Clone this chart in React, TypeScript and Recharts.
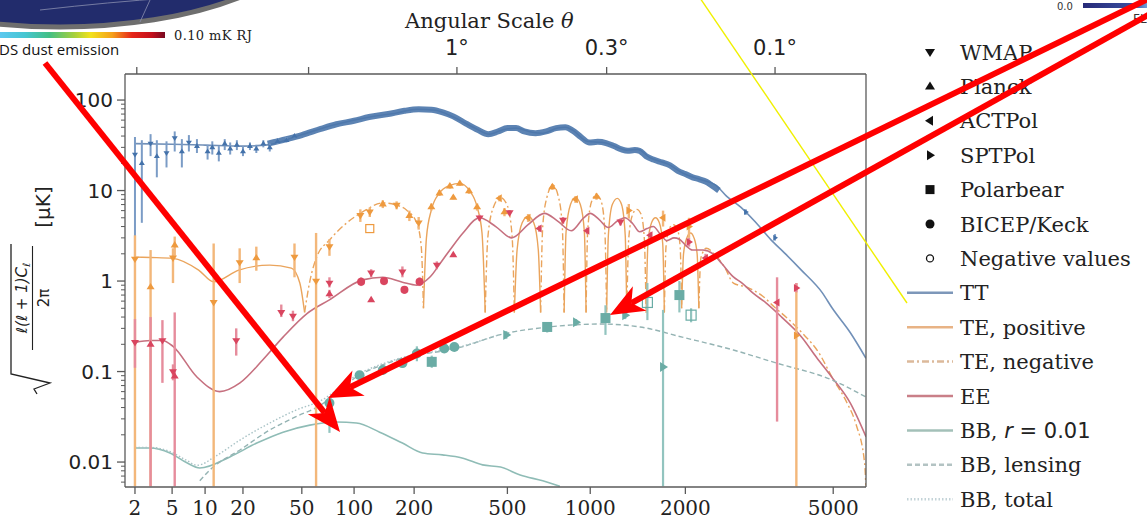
import React from "react";
import { ComposedChart, Line, Scatter, XAxis, YAxis, ErrorBar } from "recharts";

const W = 1147;
const H = 519;

// horizontal axis of the figure is linear in l^0.2
const X_POW = 0.2;
const toU = (l: number) => Math.pow(l, X_POW);

const L_RANGE = [1.515, 6000];
const Y_RANGE = [0.0053, 194];

const X_TICKS = [2, 5, 10, 20, 50, 100, 200, 500, 1000, 2000, 5000];
const TOP_TICKS = [2.1, 55, 311, 1135, 3556];
const TOP_LABELS = ["", "", "1°", "0.3°", "0.1°"];
const Y_MAJOR = [0.01, 0.1, 1, 10, 100];
const Y_MINOR = [
  0.006, 0.007, 0.008, 0.009, 0.02, 0.03, 0.04, 0.05, 0.06, 0.07, 0.08, 0.09,
  0.2, 0.3, 0.4, 0.5, 0.6, 0.7, 0.8, 0.9, 2, 3, 4, 5, 6, 7, 8, 9,
  20, 30, 40, 50, 60, 70, 80, 90,
];

// theory curves [l, value]
const TT_CURVE = [
  [2, 33], [5, 32.5], [10, 31.8], [20, 31], [30, 32], [49, 41], [77, 53], [121, 65],
  [165, 72], [205, 79], [250, 77], [300, 65], [370, 49], [424, 42], [480, 47], [540, 49],
  [620, 44], [680, 43], [770, 49], [820, 50], [870, 46.5], [975, 35], [1130, 33.5],
  [1180, 31.8], [1320, 28], [1430, 28.5], [1564, 23], [1770, 19.7], [1970, 15.5],
  [2250, 13], [2450, 11.5], [2640, 8.5], [2870, 6.6], [3166, 4.4], [3470, 2.85],
  [3762, 2.05], [4160, 1.32], [4700, 0.74], [4975, 0.5], [5500, 0.27], [6000, 0.14],
];

// Planck binned TT band
const TT_BAND = [
  [30, 33], [40, 37], [50, 41], [65, 48], [80, 54], [100, 59], [120, 65], [150, 70],
  [180, 76], [210, 79], [240, 78], [270, 73], [300, 66], [340, 55], [380, 47], [420, 42],
  [460, 45], [500, 49], [540, 49], [580, 45], [640, 43], [700, 45], [760, 49], [820, 50],
  [870, 46], [930, 39], [990, 34], [1060, 34.5], [1130, 33.5], [1200, 31], [1270, 28.5],
  [1330, 27.5], [1400, 28], [1450, 27.5], [1520, 24], [1600, 22], [1700, 20.5],
  [1800, 19], [1900, 16.5], [2000, 15.2], [2100, 14], [2200, 13.3], [2300, 12.5],
  [2400, 11.2], [2500, 10],
];

// |TE|, sign flips at each crossing
const TE_CROSS = [52, 221, 408, 532, 668, 812, 968, 1135, 1320, 1520, 1730, 1950, 2190];
const TE_CURVE = [
  [2, 1.84], [3, 1.82], [5.1, 1.78], [8.8, 1.32], [11.8, 0.98], [18.6, 1.32], [31, 1.5],
  [43, 1.39], [48.6, 0.95], [52, 0.45],
  [56, 1.0], [61.5, 1.84], [73, 2.84], [91, 4.37], [111, 5.8], [141, 7.3], [165, 6.9],
  [184, 6.1], [206, 4.37], [216, 2.35], [221, 0.5],
  [228, 3.0], [240, 6.1], [261, 9.4], [290, 11.4], [320, 12.0], [350, 10.1], [378, 6.6],
  [396, 3.4], [408, 0.45],
  [418, 3.0], [440, 6.5], [470, 8.4], [500, 6.8], [522, 3.0], [532, 0.45],
  [545, 2.2], [570, 4.4], [600, 5.2], [630, 4.4], [655, 2.2], [668, 0.45],
  [680, 4.0], [705, 8.5], [740, 11.5], [775, 8.5], [800, 4.0], [812, 0.45],
  [825, 3.5], [855, 7.0], [890, 8.4], [925, 7.0], [955, 3.5], [968, 0.45],
  [980, 3.5], [1010, 7.5], [1050, 9.0], [1090, 7.5], [1120, 3.5], [1135, 0.45],
  [1150, 3.2], [1185, 7.0], [1230, 8.2], [1270, 7.0], [1305, 3.2], [1320, 0.45],
  [1340, 3.0], [1380, 5.5], [1420, 6.2], [1465, 5.5], [1500, 3.0], [1520, 0.45],
  [1540, 2.6], [1580, 4.4], [1625, 5.0], [1670, 4.4], [1710, 2.6], [1730, 0.45],
  [1750, 2.4], [1790, 3.8], [1840, 4.2], [1890, 3.8], [1930, 2.4], [1950, 0.5],
  [1975, 2.0], [2020, 3.0], [2070, 3.4], [2120, 3.0], [2165, 2.0], [2190, 0.5],
  [2220, 1.8], [2300, 2.3], [2450, 1.9], [2600, 1.4], [2744, 0.95], [3000, 0.85],
  [3300, 0.68], [3536, 0.52], [3850, 0.38], [4170, 0.27], [4611, 0.16], [4977, 0.085],
  [5405, 0.045], [5683, 0.026], [5955, 0.0097], [5995, 0.0055],
];

const EE_CURVE = [
  [2, 0.21], [3, 0.22], [4, 0.22], [5.1, 0.19], [8.5, 0.087], [13.2, 0.06], [19, 0.075],
  [27.7, 0.134], [38, 0.24], [54, 0.44], [73, 0.62], [111, 1.03], [141, 1.1], [176, 0.97],
  [206, 0.9], [236, 1.1], [269, 1.7], [290, 2.2], [330, 3.4], [387, 5.0], [450, 4.0],
  [520, 3.0], [600, 4.2], [690, 5.6], [770, 4.6], [860, 3.6], [950, 5.0], [1000, 5.6],
  [1070, 4.8], [1150, 3.9], [1230, 4.6], [1300, 5.0], [1380, 4.3], [1450, 3.5],
  [1530, 3.8], [1600, 4.0], [1680, 3.3], [1760, 2.8], [1850, 3.0], [1920, 2.9],
  [2000, 2.5], [2100, 2.2], [2250, 2.2], [2405, 2.0], [2550, 1.55], [2744, 1.11],
  [2900, 0.95], [3101, 0.74], [3371, 0.57], [3700, 0.4], [4170, 0.24], [4542, 0.144],
  [4977, 0.085], [5500, 0.045], [6000, 0.019],
];

const BB_R = [
  [2, 0.0143], [2.95, 0.0143], [4.76, 0.0126], [6.9, 0.0098], [9, 0.0086], [15.9, 0.0114],
  [25.2, 0.0162], [38, 0.0214], [56, 0.0256], [80, 0.0277], [103, 0.027], [136, 0.0214],
  [176, 0.0162], [219, 0.0126], [269, 0.012], [327, 0.0111], [398, 0.0093], [470, 0.0088],
  [560, 0.0072], [680, 0.0062], [784, 0.0054],
];

const BB_LENS = [
  [9, 0.0062], [11, 0.0082], [19, 0.0136], [31, 0.0226], [46, 0.0317], [62, 0.0405],
  [107, 0.0914], [165, 0.134], [327, 0.187], [465, 0.254], [718, 0.311], [1085, 0.335],
  [1455, 0.311], [1957, 0.24], [2744, 0.173], [3588, 0.124], [4977, 0.0805], [6000, 0.0522],
];

const BB_TOT = [
  [2, 0.0145], [3, 0.0145], [4.8, 0.013], [6.9, 0.0104], [8.5, 0.0092], [12.5, 0.0118],
  [19, 0.0175], [31, 0.027], [46, 0.0375], [64, 0.047], [107, 0.095], [165, 0.137],
  [327, 0.19], [465, 0.256],
];

// measurements [l, value, low, high, marker]
// w WMAP, p Planck, a ACTPol, s SPTPol, b Polarbear, k BICEP/Keck, n negative
const TT_PTS: any[] = [
  [2.0, 25, 0.0054, 39, "w"], [2.4, 20, 4.4, 36, "p"], [3, 33, 24, 42, "w"],
  [3.5, 24, 14, 36, "p"], [4.4, 26, 18, 35, "w"], [5.3, 38, 27, 45, "w"],
  [6.2, 27, 18, 37, "p"], [7.2, 34, 27, 41, "w"], [8.5, 31, 26, 37, "p"],
  [10.5, 27, 22, 32, "p"], [11.5, 30, 25, 35, "p"], [13, 26, 21, 31, "p"],
  [14.5, 33, 28, 37, "p"], [16, 29, 25, 34, "p"], [18, 32, 28, 36, "p"],
  [20, 27, 24, 31, "p"], [22.5, 31, 28, 34, "p"], [25, 29, 26, 32, "p"],
  [28, 33, 30, 36, "p"], [31, 30, 27, 33, "p"], [35, 35, 33, 38, "p"],
  [40, 36, 34, 39, "p"], [45, 40, 38, 42, "p"], [2970, 5.8, 5.4, 6.2, "s"],
  [3556, 3.0, 2.8, 3.3, "s"],
];

const TE_PTS: any[] = [
  [2, 1.75, 0.0054, 3.2, "w"], [3.0, 0.86, 0.0054, 2.2, "p"], [5.1, 1.8, 0.95, 2.3, "w"],
  [5.3, 2.5, 1.9, 3.1, "p"], [11.8, 0.58, 0.0054, 2.6, "w"], [18.9, 1.6, 0.95, 2.3, "w"],
  [25, 1.8, 1.3, 2.4, "p"], [45, 1.84, 1.1, 2.6, "w"], [61, 1.0, 0.0054, 3.4, "w"],
  [73, 2.4, 1.9, 2.9, "w"], [108, 5.3, 4.5, 6.2, "w"], [121, 5.8, 5.1, 6.5, "w"],
  [121, 3.8, 3.8, 3.8, "n"], [141, 7.1, 6.4, 7.8, "p"], [165, 6.9, 6.2, 7.6, "w"],
  [190, 5.3, 4.6, 6.0, "p"], [210, 4.4, 3.7, 5.1, "w"], [240, 6.6, 6.0, 7.2, "p"],
  [261, 9.4, 8.7, 10.1, "p"], [290, 11.2, 10.5, 11.9, "p"], [300, 8.4, 8.0, 8.8, "p"],
  [320, 12.0, 11.3, 12.7, "p"], [350, 9.9, 9.2, 10.6, "p"], [378, 6.6, 6.0, 7.2, "p"],
  [465, 8.2, 7.6, 8.8, "a"], [487, 5.8, 5.2, 6.4, "p"], [600, 5.0, 4.5, 5.5, "a"],
  [737, 11, 10.2, 11.8, "p"], [890, 8.0, 7.3, 8.7, "a"], [1050, 8.6, 7.9, 9.3, "p"],
  [1340, 6.0, 4.9, 7.1, "s"], [1714, 5.0, 4.0, 6.0, "a"], [2050, 4.0, 3.0, 5.0, "s"],
  [4040, 0.25, 0.0054, 0.95, "s"],
];

const EE_PTS: any[] = [
  [2, 0.21, 0.11, 0.38, "w"], [3.0, 0.2, 0.0054, 0.4, "p"], [4.0, 0.22, 0.075, 0.37, "w"],
  [5.3, 0.089, 0.0054, 0.45, "p"], [5.1, 0.1, 0.08, 0.12, "w"], [17.8, 0.22, 0.15, 0.3, "w"],
  [37, 0.45, 0.4, 0.55, "w"], [44, 0.41, 0.36, 0.47, "w"], [73, 0.95, 0.85, 1.1, "w"],
  [73, 0.72, 0.65, 0.8, "p"], [109, 0.98, 0.88, 1.1, "k"], [123, 1.23, 1.1, 1.35, "w"],
  [123, 0.62, 0.62, 0.62, "p"], [143, 1.0, 0.9, 1.1, "k"], [176, 1.26, 1.1, 1.45, "w"],
  [180, 0.8, 0.72, 0.88, "k"], [212, 0.98, 0.88, 1.1, "k"], [254, 1.5, 1.35, 1.65, "w"],
  [300, 1.95, 1.95, 1.95, "p"], [387, 5.0, 4.6, 5.4, "w"], [510, 5.7, 5.3, 6.1, "w"],
  [660, 3.8, 3.5, 4.1, "a"], [805, 4.7, 4.3, 5.1, "w"], [975, 3.6, 3.3, 3.9, "a"],
  [1260, 4.5, 4.1, 4.9, "w"], [1564, 3.2, 2.9, 3.5, "a"], [2050, 2.7, 2.4, 3.0, "s"],
  [2290, 1.8, 1.6, 2.0, "a"], [3600, 0.58, 0.028, 1.1, "a"], [4040, 0.84, 0.75, 0.95, "s"],
];

const BB_PTS: any[] = [
  [73, 0.045, 0.021, 0.052, "k"], [107, 0.091, 0.08, 0.1, "k"], [141, 0.104, 0.092, 0.116, "k"],
  [176, 0.124, 0.11, 0.14, "k"], [206, 0.158, 0.13, 0.19, "k"], [241, 0.128, 0.11, 0.15, "b"],
  [274, 0.18, 0.165, 0.195, "k"], [303, 0.187, 0.17, 0.2, "k"], [495, 0.254, 0.23, 0.28, "s"],
  [706, 0.311, 0.27, 0.35, "b"], [894, 0.35, 0.32, 0.38, "s"], [1125, 0.39, 0.254, 0.54, "b"],
  [1305, 0.42, 0.38, 0.46, "s"], [1534, 0.58, 0.37, 0.95, "n"], [1714, 0.112, 0.0054, 0.48, "s"],
  [1920, 0.7, 0.45, 1.0, "b"], [2079, 0.42, 0.35, 0.5, "n"],
];

const LEGEND_MARKERS = ["WMAP", "Planck", "ACTPol", "SPTPol", "Polarbear", "BICEP/Keck", "Negative values"];
const LEGEND_LINES = ["TT", "TE, positive", "TE, negative", "EE", "BB, r = 0.01", "BB, lensing", "BB, total"];

const AXIS = "#5a5a5a";
const SERIF = "'DejaVu Serif', serif";
const SANS = "'DejaVu Sans', sans-serif";

const TT_C = "#7190b8";
const TE_C = "#eaa45c";
const EE_C = "#c6707f";
const BB_C = "#8fbcb6";
const BBL_C = "#94b3b3";
const BBT_C = "#a9c3c6";

const curve = (rows: number[][]) => rows.map(([l, v]) => ({ x: toU(l), y: v }));

function teSplit(positive: boolean) {
  return TE_CURVE.map(([l, v]) => {
    const k = TE_CROSS.filter((c) => c < l).length;
    const arcs = TE_CROSS.includes(l) ? [k, k + 1] : [k];
    const keep = arcs.some((a) => (a % 2 === 0) === positive);
    return { x: toU(l), y: keep ? v : null };
  });
}

const pts = (rows: any[]) =>
  rows.map(([l, v, lo, hi, m]) => ({ x: toU(l), y: v, err: [v - lo, hi - v], m }));

function markerShape(color: string, s: number) {
  return (p: any) => {
    const { cx, cy, payload } = p;
    if (cx == null || cy == null) return <g />;
    switch (payload.m) {
      case "w":
        return <polygon points={`${cx - s},${cy - s * 0.6} ${cx + s},${cy - s * 0.6} ${cx},${cy + s}`} fill={color} />;
      case "p":
        return <polygon points={`${cx - s},${cy + s * 0.6} ${cx + s},${cy + s * 0.6} ${cx},${cy - s}`} fill={color} />;
      case "a":
        return <polygon points={`${cx + s * 0.6},${cy - s} ${cx + s * 0.6},${cy + s} ${cx - s},${cy}`} fill={color} />;
      case "s":
        return <polygon points={`${cx - s * 0.6},${cy - s} ${cx - s * 0.6},${cy + s} ${cx + s},${cy}`} fill={color} />;
      case "b":
        return <rect x={cx - s} y={cy - s} width={2 * s} height={2 * s} fill={color} />;
      case "k":
        return <circle cx={cx} cy={cy} r={s} fill={color} />;
      default:
        return <rect x={cx - s} y={cy - s} width={2 * s} height={2 * s} fill="none" stroke={color} strokeWidth={1.2} />;
    }
  };
}

const BottomTick = (p: any) => {
  const { x, y, payload } = p;
  const label = Math.round(Math.pow(payload.value, 1 / X_POW));
  return (
    <g>
      <line x1={x} y1={y} x2={x} y2={y + 7} stroke={AXIS} strokeWidth={1.3} />
      <text x={x} y={y + 28} textAnchor="middle" fontFamily={SERIF} fontSize={20} fill="#222">
        {label}
      </text>
    </g>
  );
};

const TopTick = (p: any) => {
  const { x, y, payload } = p;
  const i = TOP_TICKS.findIndex((t) => Math.abs(toU(t) - payload.value) < 1e-6);
  return (
    <g>
      <line x1={x} y1={y} x2={x} y2={y - 7} stroke={AXIS} strokeWidth={1.3} />
      <text x={x} y={y - 19} textAnchor="middle" fontFamily={SANS} fontSize={21} fill="#222">
        {i >= 0 ? TOP_LABELS[i] : ""}
      </text>
    </g>
  );
};

const LeftTick = (p: any) => {
  const { x, y, payload } = p;
  const major = Y_MAJOR.some((v) => Math.abs(v - payload.value) < 1e-9);
  return (
    <g>
      <line x1={x} y1={y} x2={x - (major ? 8 : 4)} y2={y} stroke={AXIS} strokeWidth={major ? 1.3 : 1} />
      {major && (
        <text x={x - 12} y={y + 7} textAnchor="end" fontFamily={SANS} fontSize={20} fill="#222">
          {payload.value}
        </text>
      )}
    </g>
  );
};

function arrow(x1: number, y1: number, x2: number, y2: number) {
  const len = 34;
  const half = 14;
  const d = Math.hypot(x2 - x1, y2 - y1);
  const ux = (x2 - x1) / d;
  const uy = (y2 - y1) / d;
  const bx = x2 - ux * len;
  const by = y2 - uy * len;
  const nx = x2 - ux * len * 0.72;
  const ny = y2 - uy * len * 0.72;
  return (
    <g>
      <line x1={x1} y1={y1} x2={nx} y2={ny} stroke="#ff0000" strokeWidth={6} />
      <polygon
        points={`${x2},${y2} ${bx - uy * half},${by + ux * half} ${nx},${ny} ${bx + uy * half},${by - ux * half}`}
        fill="#ff0000"
      />
    </g>
  );
}

function LegendMarker({ kind, x, y }: { kind: number; x: number; y: number }) {
  const s = 5;
  const c = "#111";
  if (kind === 0) return <polygon points={`${x - s},${y - 3} ${x + s},${y - 3} ${x},${y + 5}`} fill={c} />;
  if (kind === 1) return <polygon points={`${x - s},${y + 3} ${x + s},${y + 3} ${x},${y - 5}`} fill={c} />;
  if (kind === 2) return <polygon points={`${x + 3},${y - s} ${x + 3},${y + s} ${x - 5},${y}`} fill={c} />;
  if (kind === 3) return <polygon points={`${x - 3},${y - s} ${x - 3},${y + s} ${x + 5},${y}`} fill={c} />;
  if (kind === 4) return <rect x={x - 4.5} y={y - 4.5} width={9} height={9} fill={c} />;
  if (kind === 5) return <circle cx={x} cy={y} r={4.5} fill={c} />;
  return <circle cx={x} cy={y} r={3.5} fill="none" stroke={c} strokeWidth={1.3} />;
}

const LINE_STYLES = [
  { c: "#7d97b9", dash: undefined },
  { c: "#e8b385", dash: undefined },
  { c: "#dcb99a", dash: "7 3 2 3" },
  { c: "#c97f88", dash: undefined },
  { c: "#a3c0b8", dash: undefined },
  { c: "#b3c3c3", dash: "5 3" },
  { c: "#c3d3d8", dash: "1.5 2" },
];

function Overlay() {
  const rowY = (i: number) => 52 + i * 34.4;
  return (
    <svg width={W} height={H} style={{ position: "absolute", left: 0, top: 0, pointerEvents: "none" }}>
      <defs>
        <linearGradient id="cbar" x1="0" x2="1" y1="0" y2="0">
          <stop offset="0" stopColor="#5cc8f0" />
          <stop offset="0.15" stopColor="#46c6d2" />
          <stop offset="0.3" stopColor="#43bf84" />
          <stop offset="0.45" stopColor="#a6d03c" />
          <stop offset="0.55" stopColor="#f2e21c" />
          <stop offset="0.68" stopColor="#f5a01a" />
          <stop offset="0.8" stopColor="#e6261a" />
          <stop offset="0.92" stopColor="#c4101c" />
          <stop offset="1" stopColor="#760a22" />
        </linearGradient>
        <linearGradient id="cbar2" x1="0" x2="1" y1="0" y2="0">
          <stop offset="0" stopColor="#262a78" />
          <stop offset="0.8" stopColor="#3a4fa0" />
          <stop offset="1" stopColor="#6fa0d8" />
        </linearGradient>
      </defs>

      {/* corner clippings */}
      <ellipse cx={60} cy={-75} rx={255} ry={102} fill="#222c6c" stroke="#6e6e6e" strokeWidth={5} />
      <path d="M 40 10 Q 110 2 170 -2" stroke="#8a8fb0" strokeWidth={0.8} fill="none" />
      <path d="M 150 0 L 140 22" stroke="#8a8fb0" strokeWidth={0.8} />
      <rect x={0} y={32} width={165} height={6} fill="url(#cbar)" />
      <text x={174} y={40} fontFamily={SERIF} fontSize={13} fill="#222" letterSpacing={0.4}>0.10 mK RJ</text>
      <text x={-1} y={55} fontFamily="'Open Sans', sans-serif" fontSize={15} fill="#111">DS dust emission</text>
      <text x={1057} y={10} fontFamily={SANS} fontSize={10} fill="#333">0.0</text>
      <rect x={1083} y={3} width={64} height={5} fill="url(#cbar2)" />
      <text x={1133} y={23} fontFamily={SANS} fontSize={12} fill="#333">FL</text>

      {/* title and y label */}
      <text x={405} y={28} fontFamily={SERIF} fontSize={21} fill="#222">
        Angular Scale <tspan fontStyle="italic">θ</tspan>
      </text>
      <g transform="rotate(-90)" fill="#222">
        <text x={-207} y={50} textAnchor="middle" fontFamily={SANS} fontSize={20}>[μK]</text>
        <text x={-298} y={27} textAnchor="middle" fontFamily={SANS} fontSize={15} fontStyle="italic">
          ℓ(ℓ + 1)C<tspan fontSize={10} dy={3}>ℓ</tspan>
        </text>
        <line x1={-350} x2={-246} y1={32.5} y2={32.5} stroke="#222" strokeWidth={1.1} />
        <text x={-298} y={49} textAnchor="middle" fontFamily={SANS} fontSize={15}>2π</text>
        <polyline points="-394,37 -389,34 -383,50 -374,11 -244,11" fill="none" stroke="#222" strokeWidth={1.3} />
      </g>

      {/* legend */}
      {LEGEND_MARKERS.map((t, i) => (
        <g key={t}>
          <LegendMarker kind={i} x={930} y={rowY(i)} />
          <text x={960} y={rowY(i) + 7.5} fontFamily={SERIF} fontSize={21} fill="#222">{t}</text>
        </g>
      ))}
      {LEGEND_LINES.map((t, j) => {
        const i = j + 7;
        const st = LINE_STYLES[j];
        return (
          <g key={t}>
            <line x1={907} x2={953} y1={rowY(i)} y2={rowY(i)} stroke={st.c} strokeWidth={2.5} strokeDasharray={st.dash} />
            {j === 4 ? (
              <text x={960} y={rowY(i) + 7.5} fontFamily={SERIF} fontSize={21} fill="#222">
                BB, <tspan fontFamily={SANS} fontStyle="italic">r</tspan>
                <tspan fontFamily={SANS}> = 0.01</tspan>
              </text>
            ) : (
              <text x={960} y={rowY(i) + 7.5} fontFamily={SERIF} fontSize={21} fill="#222">{t}</text>
            )}
          </g>
        );
      })}

      {/* annotations */}
      <line x1={700} y1={-2} x2={907} y2={303} stroke="#f0f000" strokeWidth={1.4} />
      {arrow(45, 63, 340, 432)}
      {arrow(1150, -2, 328, 398)}
      {arrow(1150, 14, 610, 315)}
    </svg>
  );
}

export default function App() {
  const uDomain = [toU(L_RANGE[0]), toU(L_RANGE[1])];
  const common = { xAxisId: "b", yAxisId: "l", isAnimationActive: false } as any;
  const lineProps = { ...common, dataKey: "y", type: "monotone", dot: false, activeDot: false, connectNulls: false } as any;
  return (
    <div style={{ position: "absolute", left: 0, top: 0, width: W, height: H, background: "#fff" }}>
      <ComposedChart width={W} height={H} margin={{ top: 0, right: 0, bottom: 0, left: 0 }}>
        <XAxis
          xAxisId="b"
          type="number"
          dataKey="x"
          domain={uDomain}
          ticks={X_TICKS.map(toU)}
          interval={0}
          height={32}
          tickSize={0}
          tickMargin={0}
          tick={(p: any) => <BottomTick {...p} />}
          axisLine={{ stroke: AXIS, strokeWidth: 1.3 }}
          allowDataOverflow
        />
        <XAxis
          xAxisId="t"
          orientation="top"
          type="number"
          dataKey="x"
          domain={uDomain}
          ticks={TOP_TICKS.map(toU)}
          interval={0}
          height={74}
          tickSize={0}
          tickMargin={0}
          tick={(p: any) => <TopTick {...p} />}
          axisLine={{ stroke: AXIS, strokeWidth: 1.3 }}
          allowDataOverflow
        />
        <YAxis
          yAxisId="l"
          type="number"
          scale="log"
          dataKey="y"
          domain={Y_RANGE}
          ticks={[...Y_MAJOR, ...Y_MINOR]}
          interval={0}
          width={125}
          tickSize={0}
          tickMargin={0}
          tick={(p: any) => <LeftTick {...p} />}
          axisLine={{ stroke: AXIS, strokeWidth: 1.3 }}
          allowDataOverflow
        />
        <YAxis
          yAxisId="r"
          orientation="right"
          type="number"
          scale="log"
          domain={Y_RANGE}
          width={281}
          tick={false}
          tickLine={false}
          axisLine={{ stroke: AXIS, strokeWidth: 1.3 }}
          allowDataOverflow
        />

        <Line {...lineProps} data={curve(TT_CURVE)} stroke={TT_C} strokeWidth={1.6} />
        <Line {...lineProps} data={curve(TT_BAND)} stroke="#4a75ab" strokeWidth={6} strokeOpacity={0.9} />
        <Line {...lineProps} data={teSplit(true)} stroke={TE_C} strokeWidth={1.4} />
        <Line {...lineProps} data={teSplit(false)} stroke={TE_C} strokeWidth={1.4} strokeDasharray="7 3 2 3" />
        <Line {...lineProps} data={curve(EE_CURVE)} stroke={EE_C} strokeWidth={1.6} />
        <Line {...lineProps} data={curve(BB_R)} stroke={BB_C} strokeWidth={1.6} />
        <Line {...lineProps} data={curve(BB_LENS)} stroke={BBL_C} strokeWidth={1.4} strokeDasharray="5 3" />
        <Line {...lineProps} data={curve(BB_TOT)} stroke={BBT_C} strokeWidth={1.4} strokeDasharray="1.5 2" />

        <Scatter {...common} data={pts(TT_PTS)} dataKey="y" shape={markerShape("#4472aa", 3)}>
          <ErrorBar dataKey="err" direction="y" width={0} stroke="#7b9cc6" strokeWidth={2} />
        </Scatter>
        <Scatter {...common} data={pts(TE_PTS)} dataKey="y" shape={markerShape("#ee9a3f", 4)}>
          <ErrorBar dataKey="err" direction="y" width={0} stroke="#f3b77a" strokeWidth={2.4} />
        </Scatter>
        <Scatter {...common} data={pts(EE_PTS)} dataKey="y" shape={markerShape("#d9455f", 4)}>
          <ErrorBar dataKey="err" direction="y" width={0} stroke="#e68c9c" strokeWidth={2.4} />
        </Scatter>
        <Scatter {...common} data={pts(BB_PTS)} dataKey="y" shape={markerShape("#6aaca5", 5)}>
          <ErrorBar dataKey="err" direction="y" width={0} stroke="#92c4bf" strokeWidth={2.2} />
        </Scatter>
      </ComposedChart>
      <Overlay />
    </div>
  );
}
